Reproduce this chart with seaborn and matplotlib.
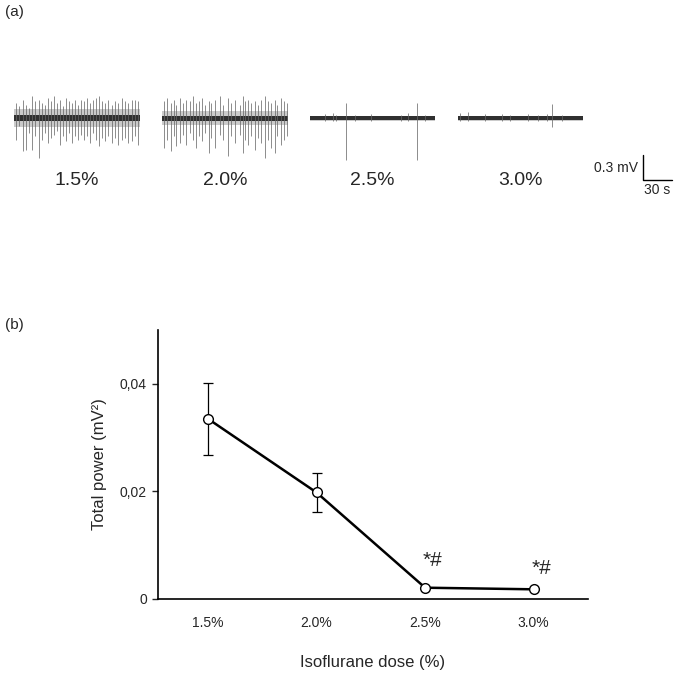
import matplotlib
matplotlib.use("Agg")
import matplotlib.pyplot as plt
import seaborn as sns

# ---- panel (b): total power per isoflurane dose ----
doses = ["1.5%", "2.0%", "2.5%", "3.0%"]
power_mean = [0.0335, 0.0198, 0.0021, 0.0018]
power_err = [0.0067, 0.0037, 0.0, 0.0]
sig_marks = ["", "", "*#", "*#"]

# ---- panel (a): EEG traces, spikes (s, mV) ----
t15 = [2.1, 5.5, 9.7, 12.4, 15.9, 18.6, 22.1, 25.5, 28.6, 32.1, 34.8, 37.9, 41.4, 44.1,
       47.6, 51.0, 53.8, 57.2, 59.6, 63.1, 66.5, 69.3, 72.4, 75.8, 78.6, 82.0, 84.8, 87.5,
       90.7, 94.1, 97.5, 101.0, 104.4, 107.9, 111.3, 114.8, 118.2, 121.7, 125.1, 128.6]
up15 = [0.18, 0.14, 0.22, 0.16, 0.12, 0.26, 0.20, 0.22, 0.18, 0.16, 0.24, 0.20, 0.26, 0.18,
        0.22, 0.14, 0.24, 0.20, 0.18, 0.22, 0.16, 0.22, 0.20, 0.24, 0.18, 0.22, 0.24, 0.26,
        0.20, 0.18, 0.22, 0.16, 0.20, 0.18, 0.24, 0.20, 0.18, 0.22, 0.22, 0.20]
dn15 = [0.26, 0.10, 0.40, 0.38, 0.18, 0.38, 0.22, 0.48, 0.26, 0.18, 0.30, 0.24, 0.20, 0.16,
        0.32, 0.22, 0.28, 0.18, 0.30, 0.22, 0.26, 0.20, 0.26, 0.22, 0.30, 0.18, 0.26, 0.34,
        0.24, 0.28, 0.22, 0.30, 0.24, 0.32, 0.26, 0.24, 0.30, 0.28, 0.22, 0.32]

t20 = [2.1, 5.5, 8.9, 12.4, 14.8, 18.3, 21.7, 25.2, 28.6, 32.1, 35.5, 37.9, 41.4, 44.8,
       48.3, 51.0, 54.5, 59.6, 63.1, 68.3, 71.7, 75.8, 80.3, 83.8, 86.2, 88.9, 92.4, 95.8,
       99.3, 102.7, 106.2, 109.6, 113.1, 116.5, 119.3, 122.7, 126.2, 129.6]
up20 = [0.20, 0.24, 0.18, 0.22, 0.16, 0.24, 0.18, 0.22, 0.20, 0.26, 0.18, 0.20, 0.24, 0.16,
        0.20, 0.18, 0.22, 0.26, 0.16, 0.24, 0.18, 0.22, 0.16, 0.26, 0.20, 0.22, 0.18, 0.20,
        0.16, 0.22, 0.26, 0.20, 0.18, 0.22, 0.16, 0.24, 0.20, 0.18]
dn20 = [0.36, 0.26, 0.40, 0.22, 0.34, 0.30, 0.20, 0.32, 0.18, 0.26, 0.36, 0.22, 0.28, 0.18,
        0.42, 0.24, 0.36, 0.20, 0.26, 0.46, 0.22, 0.30, 0.20, 0.42, 0.26, 0.32, 0.22, 0.38,
        0.24, 0.30, 0.48, 0.26, 0.36, 0.42, 0.22, 0.32, 0.26, 0.22]

t25 = [15.5, 24.1, 27.6, 37.2, 46.5, 63.8, 94.8, 101.7, 110.6, 118.9]
up25 = [0.05, 0.06, 0.04, 0.18, 0.04, 0.05, 0.04, 0.06, 0.18, 0.04]
dn25 = [0.03, 0.04, 0.03, 0.50, 0.03, 0.04, 0.03, 0.04, 0.50, 0.03]

t30 = [2.4, 11.0, 28.3, 45.5, 54.1, 73.1, 83.5, 92.1, 97.2, 107.5]
up30 = [0.06, 0.07, 0.05, 0.05, 0.04, 0.05, 0.04, 0.05, 0.17, 0.04]
dn30 = [0.03, 0.04, 0.03, 0.03, 0.03, 0.03, 0.03, 0.04, 0.11, 0.03]

# background noise amplitude of each trace (mV): outer haze, dark core
haze = [0.11, 0.08, 0.03, 0.03]
core = [0.04, 0.03, 0.022, 0.022]

traces = [(t15, up15, dn15), (t20, up20, dn20), (t25, up25, dn25), (t30, up30, dn30)]
trace_len = 130      # s
trace_step = 153     # s between trace starts
trace_x0 = 14.5      # s

sns.set_style("white")
plt.rcParams["font.family"] = ["Liberation Sans", "DejaVu Sans"]

fig = plt.figure(figsize=(6.75, 6.73), dpi=100)

# ---------- (a) ----------
ax_a = fig.add_axes([0, (673 - 200) / 673, 1, 115 / 673])
ax_a.set_xlim(0, 675 * 30 / 29)
ax_a.set_ylim(-82 * 0.012, 33 * 0.012)
ax_a.axis("off")

for i, (tt, uu, dd) in enumerate(traces):
    x0 = trace_x0 + i * trace_step
    ax_a.fill_between([x0, x0 + trace_len], -haze[i], haze[i], color="0.55", alpha=0.45, lw=0)
    ax_a.vlines([x0 + t for t in tt], [-d for d in dd], uu, color="0.4", lw=0.7, alpha=0.75)
    ax_a.fill_between([x0, x0 + trace_len], -core[i], core[i], color="0.12", alpha=0.9, lw=0)
    ax_a.text(x0 + trace_len / 2, -0.744, doses[i], ha="center", va="center", fontsize=14)

# scale bar 0.3 mV / 30 s
sb_x, sb_y = 665.2, -0.744
ax_a.plot([sb_x, sb_x, sb_x + 30], [sb_y + 0.3, sb_y, sb_y], color="black", lw=1.0)
ax_a.text(sb_x - 5, sb_y + 0.15, "0.3 mV", ha="right", va="center", fontsize=10)
ax_a.text(sb_x + 15, sb_y - 0.03, "30 s", ha="center", va="top", fontsize=10)

fig.text(5 / 675, 1 - 12 / 673, "(a)", ha="left", va="center", fontsize=11)
fig.text(5 / 675, 1 - 325 / 673, "(b)", ha="left", va="center", fontsize=11)

# ---------- (b) ----------
ax = fig.add_axes([158 / 675, (673 - 599) / 673, (588 - 158) / 675, (599 - 330) / 673])
pos = list(range(len(doses)))
ax.errorbar(pos, power_mean, yerr=power_err, fmt="none", ecolor="black",
            elinewidth=0.9, capsize=3.5, capthick=0.9, zorder=2)
sns.lineplot(x=pos, y=power_mean, ax=ax, color="black", linewidth=1.8, marker="o",
             markersize=7, markerfacecolor="white", markeredgecolor="black",
             markeredgewidth=1.0, zorder=3)
for p, m, s in zip(pos, power_mean, sig_marks):
    if s:
        ax.text(p + 0.07, m + 0.0038 + (0.0012 if p == 2 else 0), s, ha="center",
                va="center", fontsize=15)

ax.set_xlim(-0.46, 3.5)
ax.set_ylim(0, 0.05)
ax.set_xticks(pos)
ax.set_xticklabels(doses, fontsize=10)
ax.set_yticks([0, 0.02, 0.04])
ax.set_yticklabels(["0", "0,02", "0,04"], fontsize=10)
ax.tick_params(axis="x", length=0, pad=12)
ax.tick_params(axis="y", direction="out", length=4, width=1.0, left=True, pad=4)
for side in ["top", "right"]:
    ax.spines[side].set_visible(False)
for side in ["left", "bottom"]:
    ax.spines[side].set_color("black")
    ax.spines[side].set_linewidth(1.2)
ax.set_xlabel("Isoflurane dose (%)", fontsize=12, labelpad=18)
ax.set_ylabel("Total power (mV²)", fontsize=12, labelpad=9)

fig.savefig("out.png", dpi=100)
